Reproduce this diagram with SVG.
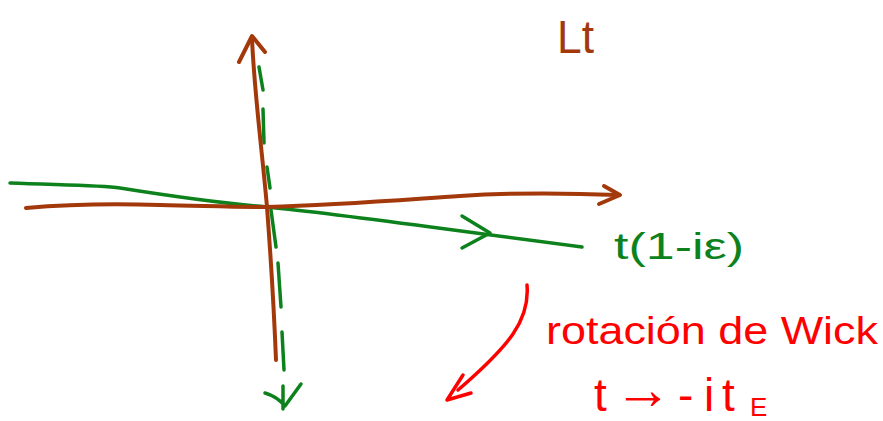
<svg xmlns="http://www.w3.org/2000/svg" width="883" height="421" viewBox="0 0 883 421">
<style>
.br{fill:none;stroke:#a3390b;stroke-width:4;stroke-linecap:round;stroke-linejoin:round}
.gr{fill:none;stroke:#0d821c;stroke-width:3.5;stroke-linecap:round;stroke-linejoin:round}
.rd{fill:none;stroke:#ff0000;stroke-width:3.5;stroke-linecap:round;stroke-linejoin:round}
.t{font-family:"Liberation Sans",Arial,sans-serif}
</style>
<rect width="883" height="421" fill="#ffffff"/>
<g id="green-contour">
<path class="gr" d="M10,183 C60,185 100,185 120,188 C170,196 220,203 267,207 C340,214 420,226 582,247"/>
<path class="gr" d="M462,216 L490,233 L462,248"/>
</g>
<g id="green-dashed-axis">
<path class="gr" d="M259,67 L263,90 M263,109 L264,143 M267,167 L270,188 M271,210 L276,247 M278,263 L281,307 M282,332 L284,370"/>
<path class="gr" d="M265,393 C272,395 280,400 285,406 L301,384 M283,386 L283,409"/>
</g>
<g id="brown-axes">
<path class="br" d="M26,208 C60,205 100,203 160,205 C210,206 240,207 267,207 C340,205 400,200 460,196 C520,192 570,193 618,195"/>
<path class="br" d="M604,186 L620,195 L599,204"/>
<path class="br" d="M252,38 C254,90 262,150 267,207 C271,260 274,310 276,360"/>
<path class="br" d="M239,62 L252,36 L265,52"/>
</g>
<g id="wick-arrow">
<path class="rd" d="M527,285 C530,320 510,345 458,390"/>
<path class="rd" d="M463,375 L447,400 L471,393"/>
</g>
<g id="labels">
<text class="t" x="557" y="53" font-size="46" fill="#a3390b" textLength="37" lengthAdjust="spacingAndGlyphs">Lt</text>
<text class="t" x="614" y="259" font-size="36" fill="#0d821c" textLength="130" lengthAdjust="spacingAndGlyphs">t(1-iε)</text>
<text class="t" x="546" y="344" font-size="38" fill="#ff0000" textLength="332" lengthAdjust="spacingAndGlyphs">rotación de Wick</text>
<text class="t" x="594" y="411" font-size="46" fill="#ff0000">t<tspan x="614" font-size="58" dy="-2">→</tspan><tspan x="678" dy="2">-</tspan><tspan x="704">i</tspan><tspan x="722">t</tspan></text>
<text class="t" x="750" y="416" font-size="26" fill="#ff0000">E</text>
</g>
</svg>
